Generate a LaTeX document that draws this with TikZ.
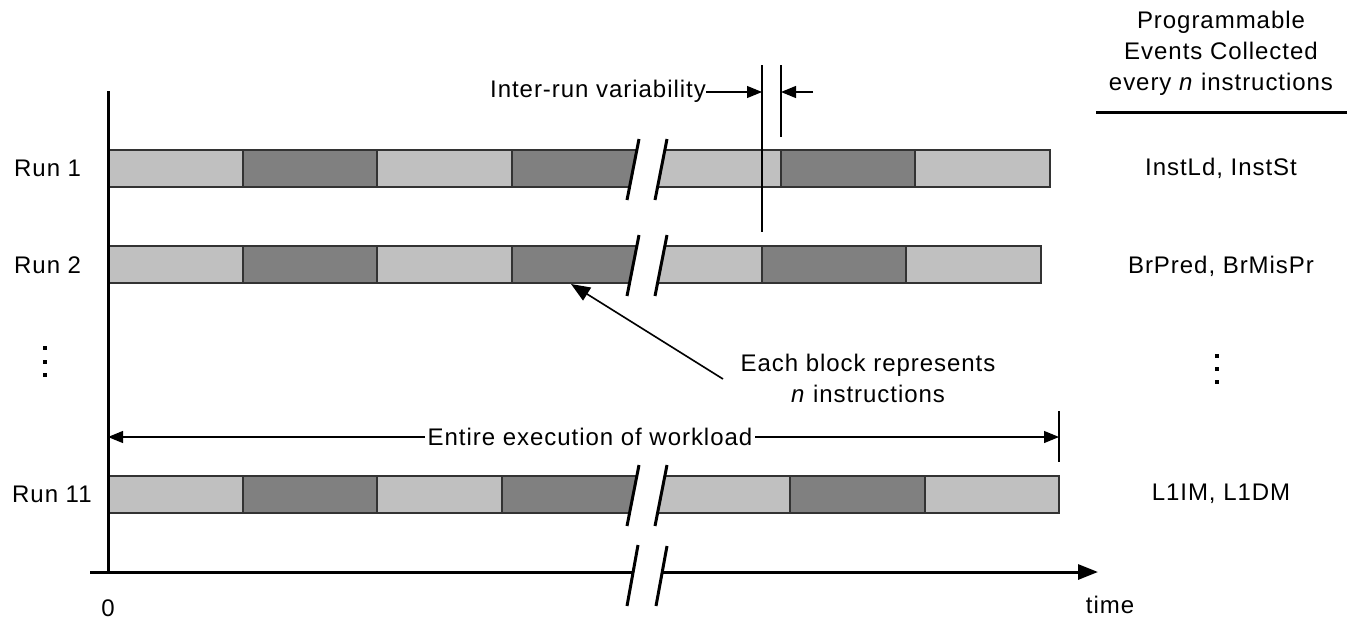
\documentclass[tikz,border=0pt]{standalone}
\usepackage{fontspec}
\setmainfont{Liberation Sans}
\usetikzlibrary{arrows.meta}
\definecolor{lightblk}{HTML}{C0C0C0}
\definecolor{darkblk}{HTML}{808080}
\definecolor{edgegray}{HTML}{333333}

% Break in a run bar: #1 top of bar, #2 start of left block, #3 its colour,
% #4 end of right block, #5 its colour
\newcommand\barbreak[5]{%
  \fill[#3] (#2,#1) -- (636.8,#1) -- (629.4,#1+37) -- (#2,#1+37) -- cycle;
  \draw[blk] (636.8,#1) -- (#2,#1) -- (#2,#1+37) -- (629.4,#1+37);
  \fill[#5] (664.8,#1) -- (#4,#1) -- (#4,#1+37) -- (657.4,#1+37) -- cycle;
  \draw[blk] (664.8,#1) -- (#4,#1) -- (#4,#1+37) -- (657.4,#1+37);
  \draw[slash] (639,#1-11) -- (627,#1+50);
  \draw[slash] (667,#1-11) -- (655,#1+50);
}

\begin{document}
\begin{tikzpicture}[x=1pt,y=-1pt,
  txt/.style={font=\fontsize{24}{31}\selectfont\addfontfeatures{LetterSpace=4}, inner sep=0pt},
  blk/.style={draw=edgegray, line width=1.1pt},
  slash/.style={line width=3pt},
  axis/.style={line width=3pt},
  thin/.style={line width=1.1pt},
  tip/.style={-{Triangle[length=15pt,width=12pt]}},
  dot/.style={fill=black, minimum size=4.5pt, inner sep=0pt}
]
\useasboundingbox (0,0) rectangle (1351,619);

% run bars
\foreach \a/\b/\c in {108/243/lightblk,243/377/darkblk,377/512/lightblk}
  \draw[blk, fill=\c] (\a,150) rectangle (\b,187);
\barbreak{150}{512}{darkblk}{781}{lightblk}
\foreach \a/\b/\c in {781/915/darkblk,915/1050/lightblk}
  \draw[blk, fill=\c] (\a,150) rectangle (\b,187);

\foreach \a/\b/\c in {108/243/lightblk,243/377/darkblk,377/512/lightblk}
  \draw[blk, fill=\c] (\a,246) rectangle (\b,283);
\barbreak{246}{512}{darkblk}{800}{lightblk}
\foreach \a/\b/\c in {762/906/darkblk,906/1041/lightblk}
  \draw[blk, fill=\c] (\a,246) rectangle (\b,283);

\foreach \a/\b/\c in {108/243/lightblk,243/377/darkblk,377/502/lightblk}
  \draw[blk, fill=\c] (\a,476) rectangle (\b,513);
\barbreak{476}{502}{darkblk}{790}{lightblk}
\foreach \a/\b/\c in {790/925/darkblk,925/1059/lightblk}
  \draw[blk, fill=\c] (\a,476) rectangle (\b,513);

% axes
\coordinate (ytop) at (108,91);
\coordinate (yfoot) at (108,573);
\draw[axis] (ytop) -- (yfoot);
\coordinate (xstart) at (90,572);
\coordinate (xgapL) at (633,572);
\coordinate (xgapR) at (662,572);
\coordinate (xend) at (1098,572);
\draw[axis] (xstart) -- (xgapL);
\draw[axis, -{Triangle[length=20pt,width=15pt]}] (xgapR) -- (xend);
\draw[slash] (638,545) -- (627,606);
\draw[slash] (667,546) -- (656,606);
\node[txt] (zero) at (108,608) {0};
\node[txt] (time) at (1110,605) {time};

% inter-run variability
\coordinate (varA) at (762,65);
\coordinate (varAb) at (762,232);
\coordinate (varB) at (781,65);
\coordinate (varBb) at (781,137);
\draw[thin] (varA) -- (varAb);
\draw[thin] (varB) -- (varBb);
\node[txt, anchor=east] (irv) at (706,91) {Inter-run variability};
\draw[thin, tip] (irv.east |- 0,92) -- (varA |- 0,92);
\coordinate (irvR) at (813,92);
\draw[thin, tip] (irvR) -- (varB |- 0,92);

% entire execution
\coordinate (exL) at (108,437);
\coordinate (exR) at (1059,437);
\draw[thin] (1059,411) -- (1059,462);
\node[txt, fill=white, inner xsep=3pt] (exe) at (590,437) {Entire execution of workload};
\draw[thin, tip] (exe.west) -- (exL);
\draw[thin, tip] (exe.east) -- (exR);

% block annotation
\node[txt, align=center] (each) at (868,378) {Each block represents\\\textit{n} instructions};
\coordinate (eachT) at (723,379);
\coordinate (eachH) at (571,284);
\draw[line width=1.6pt, -{Triangle[length=19pt,width=15pt]}] (eachT) -- (eachH);

% run labels
\node[txt, anchor=west] (r1) at (14,168) {Run 1};
\node[txt, anchor=west] (r2) at (14,265) {Run 2};
\node[txt, anchor=west] (r11) at (12,494) {Run 11};
\node[dot] (dl1) at (45,348) {};
\node[dot] (dl2) at (45,362) {};
\node[dot] (dl3) at (45,375) {};

% event column
\node[txt, align=center] (hdr) at (1221,53) {Programmable\\Events Collected\\every \textit{n} instructions};
\draw[line width=3pt] (1096,112) -- (1347,112);
\node[txt] (e1) at (1221,168) {InstLd, InstSt};
\node[txt] (e2) at (1221,266) {BrPred, BrMisPr};
\node[txt] (e11) at (1221,494) {L1IM, L1DM};
\node[dot] (dr1) at (1217,356) {};
\node[dot] (dr2) at (1217,369) {};
\node[dot] (dr3) at (1217,382) {};
\end{tikzpicture}
\end{document}
